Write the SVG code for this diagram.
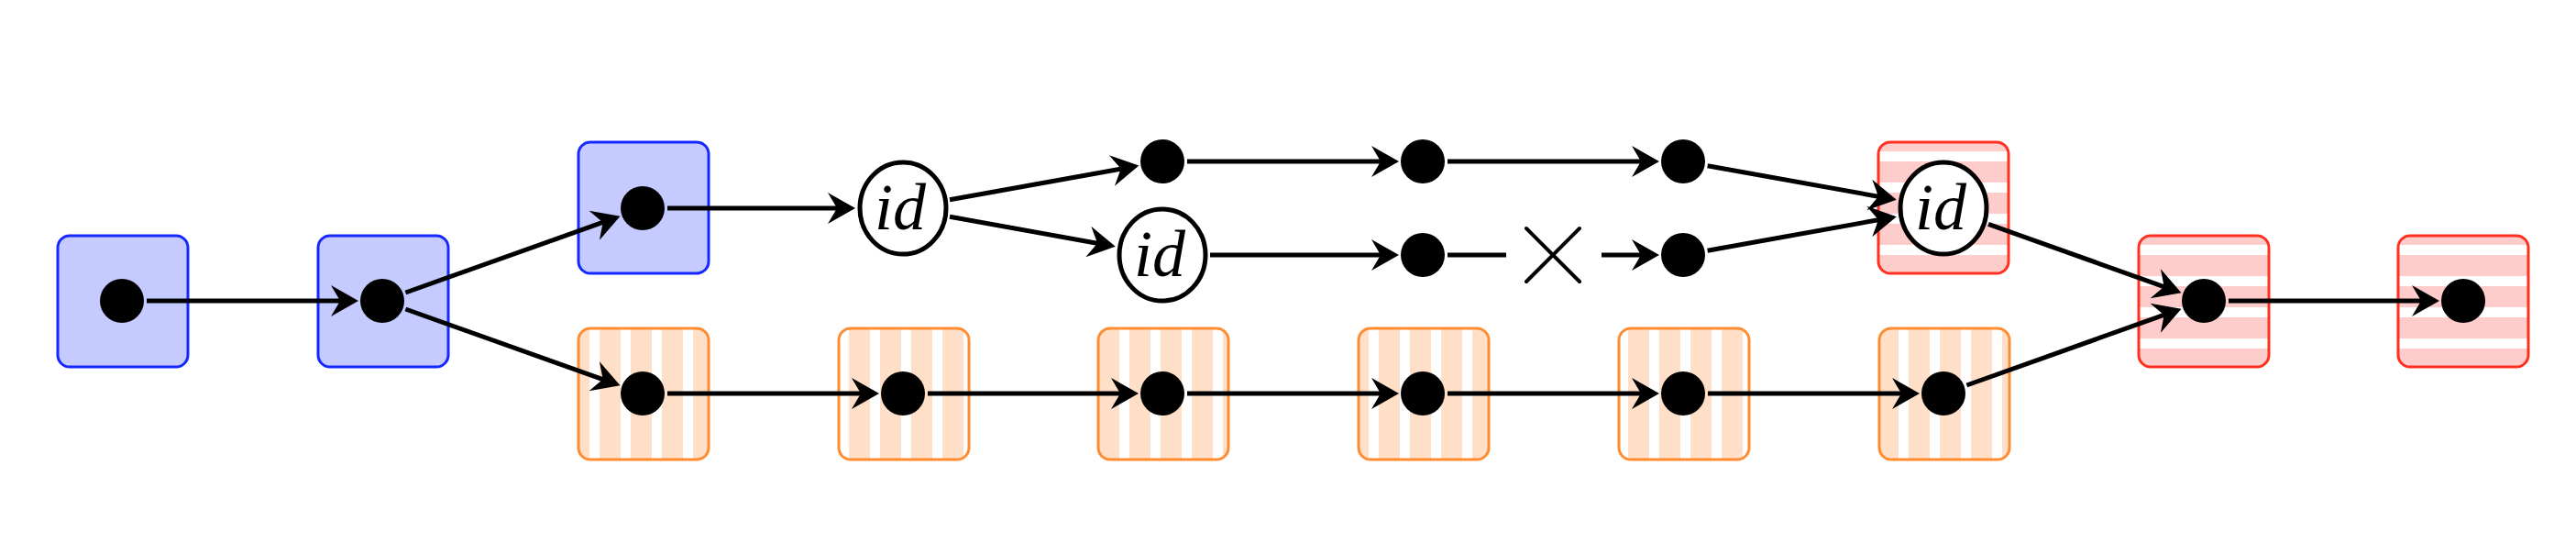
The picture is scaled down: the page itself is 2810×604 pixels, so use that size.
<svg xmlns="http://www.w3.org/2000/svg" width="2810" height="604" viewBox="0 0 2810 604">
<style>
.blue{fill:#c5cbff;stroke:#1428ff;stroke-width:3}
.orange{fill:url(#vstripe);stroke:#ff8c30;stroke-width:3}
.red{fill:url(#hstripe);stroke:#ff3020;stroke-width:3}
.dot{fill:#000}
.idc{fill:#fff;stroke:#000;stroke-width:5}
.idt{font-family:"Liberation Serif",serif;font-style:italic;font-size:72px;text-anchor:middle}
#edges line{stroke:#000;stroke-width:5;fill:none}
#edges line.a{marker-end:url(#arr)}
</style>
<defs>
<pattern id="vstripe" patternUnits="userSpaceOnUse" x="643" y="0" width="34" height="34">
<rect width="34" height="34" fill="#ffdfc8"/><rect width="11" height="34" fill="#fff"/>
</pattern>
<pattern id="hstripe" patternUnits="userSpaceOnUse" x="0" y="165" width="34" height="34">
<rect width="34" height="34" fill="#ffcccc"/><rect width="34" height="11" fill="#fff"/>
</pattern>
<marker id="arr" markerUnits="userSpaceOnUse" viewBox="-40 -20 60 40" markerWidth="60" markerHeight="40" refX="-12" refY="0" orient="auto">
<path d="M0,0 L-30,-17 L-20,0 L-30,17 Z" fill="#000"/>
</marker>
</defs>
<g id="n0"><rect class="blue" x="63" y="257" width="142" height="143" rx="13"/><circle class="dot" cx="133" cy="328" r="24"/></g>
<g id="n1"><rect class="blue" x="347" y="257" width="142" height="143" rx="13"/><circle class="dot" cx="417" cy="328" r="24"/></g>
<g id="n2t"><rect class="blue" x="631" y="155" width="142" height="143" rx="13"/><circle class="dot" cx="701" cy="227" r="24"/></g>
<g id="n2b"><rect class="orange" x="631" y="358" width="142" height="143" rx="13"/><circle class="dot" cx="701" cy="429" r="24"/></g>
<g id="n3t"><ellipse class="idc" cx="985" cy="227" rx="47" ry="50"/><text class="idt" x="982" y="250">id</text></g>
<g id="n3b"><rect class="orange" x="915" y="358" width="142" height="143" rx="13"/><circle class="dot" cx="985" cy="429" r="24"/></g>
<g id="n4t"><circle class="dot" cx="1268" cy="176" r="24"/></g>
<g id="n4m"><ellipse class="idc" cx="1268" cy="278" rx="47" ry="50"/><text class="idt" x="1265" y="301">id</text></g>
<g id="n4b"><rect class="orange" x="1198" y="358" width="142" height="143" rx="13"/><circle class="dot" cx="1268" cy="429" r="24"/></g>
<g id="n5t"><circle class="dot" cx="1552" cy="176" r="24"/></g>
<g id="n5m"><circle class="dot" cx="1552" cy="278" r="24"/></g>
<g id="n5b"><rect class="orange" x="1482" y="358" width="142" height="143" rx="13"/><circle class="dot" cx="1552" cy="429" r="24"/></g>
<g id="n6t"><circle class="dot" cx="1836" cy="176" r="24"/></g>
<g id="n6m"><circle class="dot" cx="1836" cy="278" r="24"/></g>
<g id="n6b"><rect class="orange" x="1766" y="358" width="142" height="143" rx="13"/><circle class="dot" cx="1836" cy="429" r="24"/></g>
<g id="n7t"><rect class="red" x="2049" y="155" width="142" height="143" rx="13"/><ellipse class="idc" cx="2120" cy="227" rx="47" ry="50"/><text class="idt" x="2117" y="250">id</text></g>
<g id="n7b"><rect class="orange" x="2050" y="358" width="142" height="143" rx="13"/><circle class="dot" cx="2120" cy="429" r="24"/></g>
<g id="n8"><rect class="red" x="2333" y="257" width="142" height="143" rx="13"/><circle class="dot" cx="2404" cy="328" r="24"/></g>
<g id="n9"><rect class="red" x="2616" y="257" width="142" height="143" rx="13"/><circle class="dot" cx="2687" cy="328" r="24"/></g>
<g id="cross"><path d="M1665,249 L1723,307 M1723,249 L1665,307" stroke="#000" stroke-width="4" stroke-linecap="round"/></g>
<g id="edges">
<line class="a" x1="160" y1="328" x2="379" y2="328"/>
<line class="a" x1="442.4" y1="319" x2="665.2" y2="239.7"/>
<line class="a" x1="442.4" y1="337" x2="665.2" y2="416.3"/>
<line class="a" x1="728" y1="227" x2="921" y2="227"/>
<line class="a" x1="1036" y1="217.8" x2="1230.6" y2="182.7"/>
<line class="a" x1="1036" y1="236.2" x2="1205" y2="266.7"/>
<line class="a" x1="1295" y1="176" x2="1514" y2="176"/>
<line class="a" x1="1579" y1="176" x2="1798" y2="176"/>
<line class="a" x1="1862.6" y1="180.8" x2="2057" y2="215.7"/>
<line class="a" x1="1320" y1="278" x2="1514" y2="278"/>
<line x1="1579" y1="278" x2="1643" y2="278"/>
<line class="a" x1="1747" y1="278" x2="1798" y2="278"/>
<line class="a" x1="1862.6" y1="273.2" x2="2057" y2="238.3"/>
<line class="a" x1="728" y1="429" x2="947" y2="429"/>
<line class="a" x1="1012" y1="429" x2="1230" y2="429"/>
<line class="a" x1="1295" y1="429" x2="1514" y2="429"/>
<line class="a" x1="1579" y1="429" x2="1798" y2="429"/>
<line class="a" x1="1863" y1="429" x2="2082" y2="429"/>
<line class="a" x1="2145.4" y1="420" x2="2368.2" y2="340.7"/>
<line class="a" x1="2169" y1="244.4" x2="2368.2" y2="315.3"/>
<line class="a" x1="2431" y1="328" x2="2649" y2="328"/>
</g>
</svg>
